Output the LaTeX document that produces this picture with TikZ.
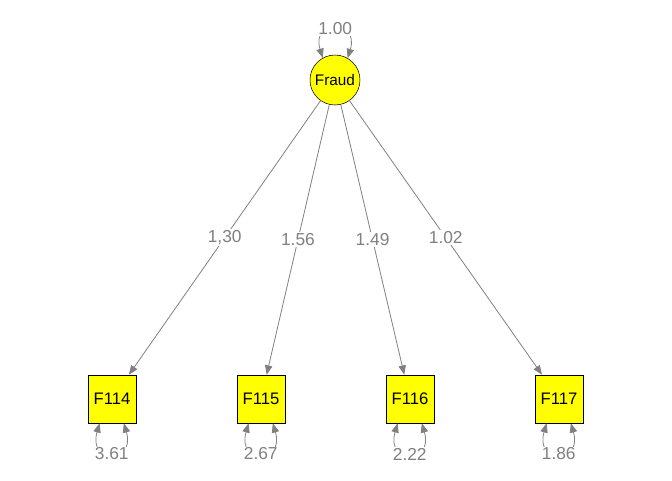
\documentclass[tikz,border=0pt]{standalone}
\usepackage{fontspec}
\setmainfont{Liberation Sans}
\usetikzlibrary{arrows.meta,calc}
\definecolor{yel}{RGB}{255,255,0}
\definecolor{gry}{RGB}{128,128,128}
\begin{document}
\begin{tikzpicture}[x=0.75pt,y=-0.75pt,
  latent/.style={circle,draw=black,fill=yel,minimum size=37.5pt,inner sep=0pt,font=\fontsize{11.5}{13}\selectfont},
  manifest/.style={rectangle,draw=black,fill=yel,minimum size=36pt,inner sep=0pt,font=\fontsize{12.5}{14}\selectfont},
  path/.style={draw=gry,line width=0.6pt,-{Triangle[length=7pt,width=5.5pt]},color=gry},
  loop/.style={draw=gry,line width=0.6pt,{Triangle[length=7pt,width=5.5pt]}-{Triangle[length=7pt,width=5.5pt]},color=gry},
  lab/.style={fill=white,text=gry,inner sep=1pt,font=\fontsize{13}{15}\selectfont}]
\useasboundingbox (0,0) rectangle (672,480);
\node[latent] (fraud) at (335,80) {Fraud};
\node[manifest] (f114) at (112,399) {F114};
\node[manifest] (f115) at (261,399) {F115};
\node[manifest] (f116) at (410,399) {F116};
\node[manifest] (f117) at (559,399) {F117};
\draw[path] (fraud) -- node[lab] {1,30} (f114);
\draw[path] (fraud) -- node[lab] {1.56} (f115);
\draw[path] (fraud) -- node[lab] {1.49} (f116);
\draw[path] (fraud) -- node[lab] {1.02} (f117);
\draw[loop] (fraud.119.5) .. controls +(-12,-39) and +(12,-39) .. node[lab,pos=0.5] {1.00} (fraud.60.5);
\foreach \n/\v in {f114/3.61,f115/2.67,f116/2.22,f117/1.86}{
  \draw[loop] (\n.243.4) .. controls +(-12,41) and +(12,41) .. node[lab,pos=0.5] {\v} (\n.296.6);
}
\end{tikzpicture}
\end{document}
